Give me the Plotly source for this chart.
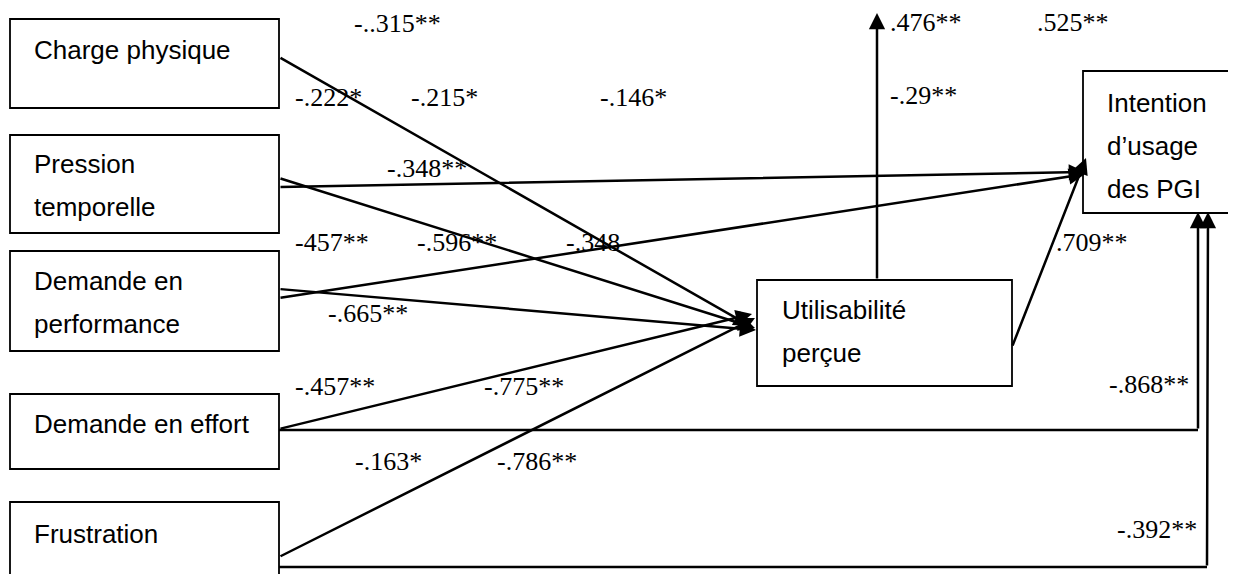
import plotly.graph_objects as go

W, H = 1236, 574
PAGE_MARGIN = 8  # default body margin of the HTML page

# ---- nodes (text) ----
node_names = ["Charge physique", "Pression temporelle", "Demande en performance",
              "Demande en effort", "Frustration", "Utilisabilité perçue",
              "Intention d’usage des PGI"]
node_lines = [["Charge physique"], ["Pression", "temporelle"], ["Demande en", "performance"],
              ["Demande en effort"], ["Frustration"], ["Utilisabilité", "perçue"],
              ["Intention", "d’usage", "des PGI"]]
# box geometry (pixels: x0, y0, x1, y1)
node_boxes = [(10, 19, 279, 108), (10, 135, 279, 233), (10, 251, 279, 351),
              (10, 394, 279, 469), (10, 502, 279, 600), (757, 280, 1012, 386),
              (1083, 71, 1235, 213)]
node_text_x = [32, 32, 32, 32, 32, 780, 1105]
node_text_y0 = [50, 164, 281, 424, 534, 310, 103]
line_gap = 43

# ---- path coefficients (labels) ----
coef_labels = ["-..315**", "-.222*", "-.215*", "-.146*", "-.348**", ".476**", ".525**",
               "-.29**", "-457**", "-.596**", "-.348", "-.665**", ".709**", "-.457**",
               "-.775**", "-.163*", "-.786**", "-.868**", "-.392**"]
coef_x = [397, 328, 444, 633, 427, 926, 1073, 923, 332, 457, 593, 368, 1092, 335,
          524, 388, 537, 1149, 1157]
coef_y = [23, 97, 97, 97, 168, 22, 22, 95, 242, 242, 242, 313, 242, 386,
          386, 461, 461, 384, 529]

# ---- arrows: list of polyline points, last point is the arrow tip ----
edges = [
    [(279, 57), (750, 326)],             # Charge -> Utilisabilité
    [(279, 178), (755, 328)],            # Pression -> Utilisabilité
    [(279, 289), (756, 330)],            # Performance -> Utilisabilité
    [(279, 429), (752, 314)],            # Effort -> Utilisabilité
    [(279, 557), (755, 318)],            # Frustration -> Utilisabilité
    [(279, 187), (1085, 172)],           # Pression -> Intention
    [(279, 298), (1085, 174)],           # Performance -> Intention
    [(1012, 347), (1086, 158)],          # Utilisabilité -> Intention
    [(877, 280), (877, 13)],             # Utilisabilité -> up
    [(279, 430), (1198, 430), (1198, 212)],  # Effort -> Intention
    [(279, 567), (1207, 567), (1208, 212)],  # Frustration -> Intention
]

fig = go.Figure()
shapes = []
annotations = []

for (x0, y0, x1, y1) in node_boxes:
    shapes.append(dict(type="rect", xref="x", yref="y", x0=x0, y0=y0, x1=x1, y1=y1,
                       line=dict(color="black", width=1.8), fillcolor="white", layer="above"))

for lines, tx, ty in zip(node_lines, node_text_x, node_text_y0):
    for i, t in enumerate(lines):
        annotations.append(dict(x=tx, y=ty + i * line_gap, xref="x", yref="y", text=t,
                                showarrow=False, xanchor="left", yanchor="middle",
                                font=dict(family="Liberation Sans", size=26, color="black")))

for pts in edges:
    for (a, b) in zip(pts[:-2], pts[1:-1]):
        shapes.append(dict(type="line", xref="x", yref="y", x0=a[0], y0=a[1], x1=b[0], y1=b[1],
                           line=dict(color="black", width=2.5), layer="below"))
    (ax, ay), (tx, ty) = pts[-2], pts[-1]
    annotations.append(dict(x=tx, y=ty, ax=ax, ay=ay, xref="x", yref="y", axref="x", ayref="y",
                            text="", showarrow=True, arrowhead=2, arrowsize=1.3, arrowwidth=2.5,
                            arrowcolor="black", standoff=0, startstandoff=0))

for t, x, y in zip(coef_labels, coef_x, coef_y):
    annotations.append(dict(x=x, y=y, xref="x", yref="y", text=t, showarrow=False,
                            xanchor="center", yanchor="middle",
                            font=dict(family="Liberation Serif", size=26, color="black")))

fig.update_layout(
    width=W, height=H, margin=dict(l=0, r=0, t=0, b=0),
    plot_bgcolor="white", paper_bgcolor="white", showlegend=False,
    font=dict(family="Liberation Serif"),
    xaxis=dict(range=[PAGE_MARGIN, W + PAGE_MARGIN], visible=False, fixedrange=True),
    yaxis=dict(range=[H + PAGE_MARGIN, PAGE_MARGIN], visible=False, fixedrange=True),
    shapes=shapes, annotations=annotations,
)
fig.write_html("out.html", config={"displayModeBar": False})
